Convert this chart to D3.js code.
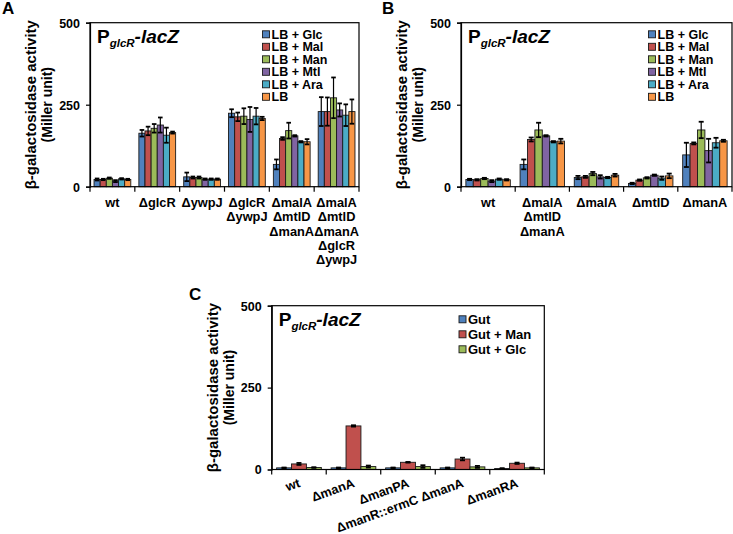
<!DOCTYPE html>
<html>
<head>
<meta charset="utf-8">
<script src="https://cdn.jsdelivr.net/npm/d3@7"></script>
<style>
  html, body { margin: 0; padding: 0; background: #fff; }
  svg { display: block; }
  text { font-family: "Liberation Sans", Arial, sans-serif; font-weight: bold; fill: #000; }
</style>
</head>
<body>
<svg id="chart" width="733" height="534"></svg>
<script>
// ---------- DATA ----------
const seriesLB = ["LB + Glc", "LB + Mal", "LB + Man", "LB + Mtl", "LB + Ara", "LB"];
const colorsLB = ["#4F81BD", "#C0504D", "#9BBB59", "#8064A2", "#4BACC6", "#F79646"];

const categoriesA = [["wt"], ["ΔglcR"], ["ΔywpJ"], ["ΔglcR", "ΔywpJ"],
  ["ΔmalA", "ΔmtlD", "ΔmanA"], ["ΔmalA", "ΔmtlD", "ΔmanA", "ΔglcR", "ΔywpJ"]];
// rows = series (Glc, Mal, Man, Mtl, Ara, LB), cols = categories
const meansA = [
  [22, 163, 30, 224, 68, 229],
  [22, 170, 28, 213, 147, 229],
  [26, 178, 28, 215, 171, 271],
  [17, 188, 23, 205, 155, 234],
  [24, 157, 23, 215, 137, 218],
  [22, 165, 23, 208, 137, 229]
];
const errorsA = [
  [3, 10, 13, 12, 15, 44],
  [2, 13, 3, 13, 4, 43],
  [2, 13, 3, 24, 24, 62],
  [3, 23, 2, 38, 2, 20],
  [2, 23, 2, 25, 2, 33],
  [2, 3, 2, 5, 8, 37]
];

const categoriesB = [["wt"], ["ΔmalA", "ΔmtlD", "ΔmanA"], ["ΔmalA"], ["ΔmtlD"], ["ΔmanA"]];
const meansB = [
  [22, 68, 28, 10, 97],
  [21, 144, 30, 20, 132],
  [25, 173, 40, 27, 173],
  [17, 155, 30, 35, 110],
  [23, 137, 28, 26, 134],
  [21, 139, 35, 33, 140]
];
const errorsB = [
  [2, 15, 5, 2, 37],
  [2, 6, 3, 2, 3],
  [2, 22, 5, 2, 25],
  [3, 2, 5, 2, 36],
  [2, 2, 2, 5, 15],
  [2, 7, 4, 7, 3]
];

const seriesGut = ["Gut", "Gut + Man", "Gut + Glc"];
const colorsGut = ["#4F81BD", "#C0504D", "#9BBB59"];
const categoriesC = ["wt", "ΔmanA", "ΔmanPA", "ΔmanR::ermC ΔmanA", "ΔmanRA"];
const meansC = [
  [5, 5, 5, 5, 3],
  [17, 133, 22, 32, 19],
  [6, 9, 9, 8, 5]
];
const errorsC = [
  [1, 1, 1, 1, 1],
  [3, 2, 1, 4, 2],
  [1, 3, 4, 3, 1]
];

const yTicks = [0, 250, 500];
const yTitle1 = "β-galactosidase activity";
const yTitle2 = "(Miller unit)";

// ---------- DRAW ----------
const svg = d3.select("#chart");

function drawPanel(cfg) {
  const { x0, x1, yTop, yBot, cats, series, colors, means, errors } = cfg;
  const g = svg.append("g");
  const catIdx = d3.range(cats.length);
  const x = d3.scaleBand().domain(catIdx).range([x0, x1]).padding(0);
  const inner = d3.scaleBand().domain(d3.range(series.length))
    .range([x.bandwidth() * 0.09, x.bandwidth() * 0.91]).padding(0);
  const y = d3.scaleLinear().domain([0, 500]).range([yBot, yTop]);

  // bars
  series.forEach((s, si) => {
    const sg = g.append("g");
    sg.selectAll("rect").data(catIdx).join("rect")
      .attr("x", ci => x(ci) + inner(si))
      .attr("y", ci => y(means[si][ci]))
      .attr("width", inner.bandwidth())
      .attr("height", ci => y(0) - y(means[si][ci]))
      .attr("fill", colors[si])
      .attr("stroke", "#1a1a1a")
      .attr("stroke-width", 0.9);
    // error bars
    const cap = Math.min(inner.bandwidth() * 0.75, 5);
    catIdx.forEach(ci => {
      const cx = x(ci) + inner(si) + inner.bandwidth() / 2;
      const m = means[si][ci], e = errors[si][ci];
      const eg = sg.append("g").attr("stroke", "#000").attr("stroke-width", 1.2);
      eg.append("line").attr("x1", cx).attr("x2", cx).attr("y1", y(m + e)).attr("y2", y(Math.max(0, m - e)));
      eg.append("line").attr("x1", cx - cap / 2).attr("x2", cx + cap / 2).attr("y1", y(m + e)).attr("y2", y(m + e)).attr("stroke-width", 1.8);
      if (m - e > 0) eg.append("line").attr("x1", cx - cap / 2).attr("x2", cx + cap / 2).attr("y1", y(m - e)).attr("y2", y(m - e)).attr("stroke-width", 1.8);
    });
  });

  // frame
  g.append("rect").attr("x", x0).attr("y", yTop).attr("width", x1 - x0).attr("height", yBot - yTop)
    .attr("fill", "none").attr("stroke", "#000").attr("stroke-width", 1.2);

  // y axis
  const ya = g.append("g").attr("transform", `translate(${x0},0)`)
    .call(d3.axisLeft(y).tickValues(yTicks).tickSize(4).tickPadding(6));
  ya.select(".domain").attr("stroke-width", 1.2);
  ya.selectAll(".tick line").attr("stroke-width", 1.2);
  ya.selectAll(".tick text").style("font-size", "12.5px").style("font-weight", "bold")
    .attr("font-family", null).attr("dy", "0.35em");

  // x axis tick marks at group boundaries
  const bounds = catIdx.map(ci => x(ci)).concat([x1]);
  g.selectAll(".xt").data(bounds).join("line").attr("class", "xt")
    .attr("x1", d => d).attr("x2", d => d).attr("y1", yBot).attr("y2", yBot + 5)
    .attr("stroke", "#000").attr("stroke-width", 1.2);

  // y title
  const cy = (yTop + yBot) / 2;
  g.append("text").attr("transform", `translate(${x0 - 54},${cy}) rotate(-90)`)
    .attr("text-anchor", "middle").style("font-size", "15px").text(yTitle1);
  g.append("text").attr("transform", `translate(${x0 - 38},${cy}) rotate(-90)`)
    .attr("text-anchor", "middle").style("font-size", "14px").text(yTitle2);

  // inset title P_glcR-lacZ
  const t = g.append("text").attr("x", x0 + 7).attr("y", yTop + 20).style("font-size", "19px");
  t.append("tspan").text("P");
  t.append("tspan").attr("dy", 4).style("font-size", "11.5px").style("font-style", "italic").text("glcR");
  t.append("tspan").attr("dy", -4).style("font-style", "italic").text("-lacZ");

  return { g, x, y };
}

function legend(xs, yc, step, series, colors, fs) {
  const lg = svg.append("g");
  series.forEach((s, i) => {
    const cy = yc + i * step;
    lg.append("rect").attr("x", xs).attr("y", cy - 3.5).attr("width", 7).attr("height", 7)
      .attr("fill", colors[i]).attr("stroke", "#1a1a1a").attr("stroke-width", 0.9);
    lg.append("text").attr("x", xs + 9).attr("y", cy).attr("dy", "0.36em")
      .style("font-size", fs + "px").text(s);
  });
}

function multiLineLabels(p, cats, yBot) {
  cats.forEach((lines, ci) => {
    const t = p.g.append("text").attr("text-anchor", "middle").style("font-size", "12.8px");
    lines.forEach((ln, li) => {
      t.append("tspan").attr("x", p.x(ci) + p.x.bandwidth() / 2).attr("y", yBot + 20 + li * 14.4).text(ln);
    });
  });
}

// Panel A
const pA = drawPanel({ x0: 90, x1: 359, yTop: 22.7, yBot: 186.7, cats: categoriesA,
  series: seriesLB, colors: colorsLB, means: meansA, errors: errorsA });
multiLineLabels(pA, categoriesA, 186.7);
legend(262.5, 34.3, 12.5, seriesLB, colorsLB, 12.5);

// Panel B
const pB = drawPanel({ x0: 461, x1: 732, yTop: 22.7, yBot: 186.7, cats: categoriesB,
  series: seriesLB, colors: colorsLB, means: meansB, errors: errorsB });
multiLineLabels(pB, categoriesB, 186.7);
legend(648.5, 34.3, 12.5, seriesLB, colorsLB, 12.5);

// Panel C
const pC = drawPanel({ x0: 271.7, x1: 544.3, yTop: 305.7, yBot: 469.5, cats: categoriesC,
  series: seriesGut, colors: colorsGut, means: meansC, errors: errorsC });
categoriesC.forEach((c, ci) => {
  const cx = pC.x(ci) + pC.x.bandwidth() / 2 + 2;
  pC.g.append("text").attr("text-anchor", "end")
    .attr("transform", `translate(${cx},${469.5 + 17}) rotate(-20)`)
    .style("font-size", "12.8px").text(c);
});
legend(459, 319.3, 15, seriesGut, colorsGut, 13);

// Panel letters
svg.append("text").attr("x", 2).attr("y", 14).style("font-size", "17px").text("A");
svg.append("text").attr("x", 382).attr("y", 14).style("font-size", "17px").text("B");
svg.append("text").attr("x", 189).attr("y", 300).style("font-size", "17px").text("C");
</script>
</body>
</html>
